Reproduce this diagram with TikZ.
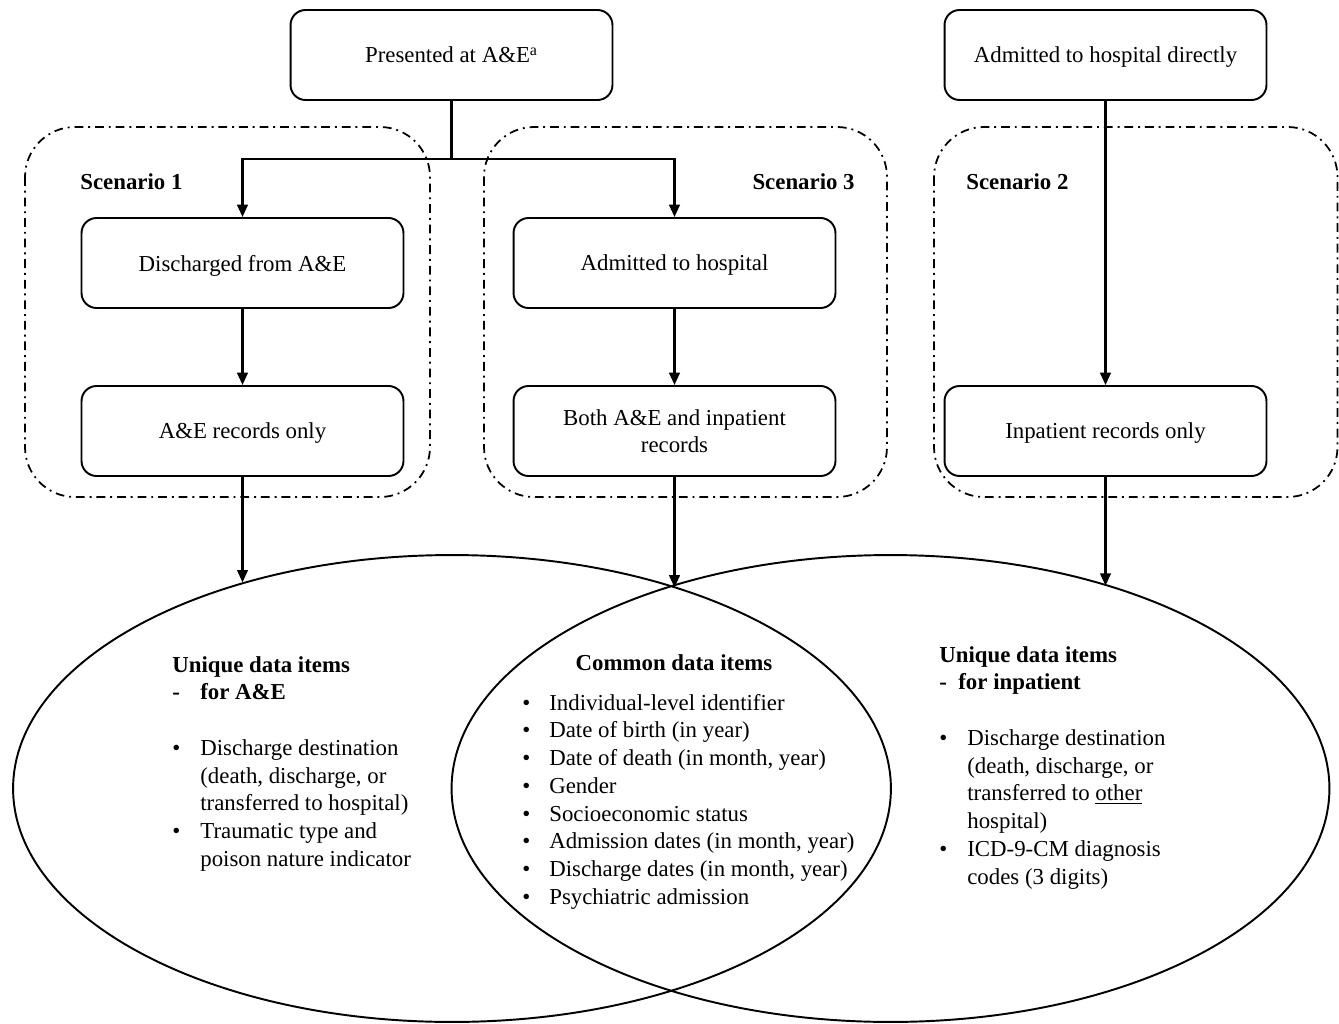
\documentclass[tikz,border=0pt]{standalone}
\usepackage{fontspec}
\setmainfont{Liberation Serif}
\usetikzlibrary{arrows.meta,shapes.geometric}
\tikzstyle{block} = [draw, line width=1.1pt, rounded corners=0.3cm, minimum width=6.44cm, minimum height=1.8cm, align=center, text depth=0pt, inner sep=0pt]
\tikzstyle{scenebox} = [draw, line width=1pt, dash pattern=on 5pt off 2.8pt on 1.1pt off 2.8pt, rounded corners=1cm]
\tikzstyle{link} = [line width=1.3pt]
\tikzstyle{arrow} = [link,-{Triangle[length=7pt,width=6pt]}]
\tikzstyle{venn} = [draw, ellipse, line width=1.1pt, minimum width=17.56cm, minimum height=9.34cm, inner sep=0pt, outer sep=0pt]
\tikzstyle{items} = [anchor=base west, inner sep=0pt, align=left]
\tikzstyle{scenlabel} = [inner sep=0pt, font=\fontsize{13pt}{15.8pt}\selectfont\bfseries]

\begin{document}
\begin{tikzpicture}[x=0.02cm, y=-0.02cm, every node/.style={font=\fontsize{13pt}{15.8pt}\selectfont}]
\useasboundingbox (0,0) rectangle (1339,1024);
\draw[scenebox] (25,127) rectangle (430,497);
\draw[scenebox] (484,127) rectangle (887,497);
\draw[scenebox] (934,127) rectangle (1337.5,497);
\draw (80,190) node (sc1) [scenlabel, anchor=base west] {Scenario 1};
\draw (855,190) node (sc3) [scenlabel, anchor=base east] {Scenario 3};
\draw (966,190) node (sc2) [scenlabel, anchor=base west] {Scenario 2};
\draw (451.5,55) node (present) [block] {Presented at A\&E\textsuperscript{a}};
\draw (1105.5,55) node (direct) [block] {Admitted to hospital directly};
\draw (242.5,263) node (dis) [block] {Discharged from A\&E};
\draw (674.5,263) node (adm) [block] {Admitted to hospital};
\draw (242.5,431) node (aeonly) [block] {A\&E records only};
\draw (674.5,431) node (both) [block] {Both A\&E and inpatient\\records};
\draw (1105.5,431) node (inponly) [block] {Inpatient records only};
\draw (452,788.5) node (setA) [venn] {};
\draw (890.5,788.5) node (setI) [venn] {};
\coordinate (branch) at (451.5,159);
\draw[link] (present) -- (branch);
\draw[arrow] (branch) -| (dis.north);
\draw[arrow] (branch) -| (adm.north);
\draw[arrow] (dis) -- (aeonly);
\draw[arrow] (adm) -- (both);
\draw[arrow] (direct) -- (inponly);
\draw[arrow] (aeonly) -- (aeonly.south |- setA.135.6);
\draw[arrow] (both) -- (both.south |- setA.42.1);
\draw[arrow] (inponly) -- (inponly.south |- setI.43.4);
% data items
\draw (172,672) node (uniqA) [items] {\begin{tabular}[t]{@{}p{0.56cm}@{}l@{}}
\multicolumn{2}{@{}l@{}}{\textbf{Unique data items}}\\
\textbf{-} & \textbf{for A\&E}\\
 & \\
\textbullet & Discharge destination\\
 & (death, discharge, or\\
 & transferred to hospital)\\
\textbullet & Traumatic type and\\
 & poison nature indicator
\end{tabular}};
\draw (674,670) node (common) [scenlabel, anchor=base] {Common data items};
\draw (522,710) node (commonlist) [items] {\begin{tabular}[t]{@{}p{0.54cm}@{}l@{}}
\textbullet & Individual-level identifier\\
\textbullet & Date of birth (in year)\\
\textbullet & Date of death (in month, year)\\
\textbullet & Gender\\
\textbullet & Socioeconomic status\\
\textbullet & Admission dates (in month, year)\\
\textbullet & Discharge dates (in month, year)\\
\textbullet & Psychiatric admission
\end{tabular}};
\draw (939,662) node (uniqI) [items] {\begin{tabular}[t]{@{}p{0.56cm}@{}l@{}}
\multicolumn{2}{@{}l@{}}{\textbf{Unique data items}}\\
\multicolumn{2}{@{}l@{}}{\textbf{-\ \ for inpatient}}\\
 & \\
\textbullet & Discharge destination\\
 & (death, discharge, or\\
 & transferred to \underline{other}\\
 & hospital)\\
\textbullet & ICD-9-CM diagnosis\\
 & codes (3 digits)
\end{tabular}};
\end{tikzpicture}
\end{document}
